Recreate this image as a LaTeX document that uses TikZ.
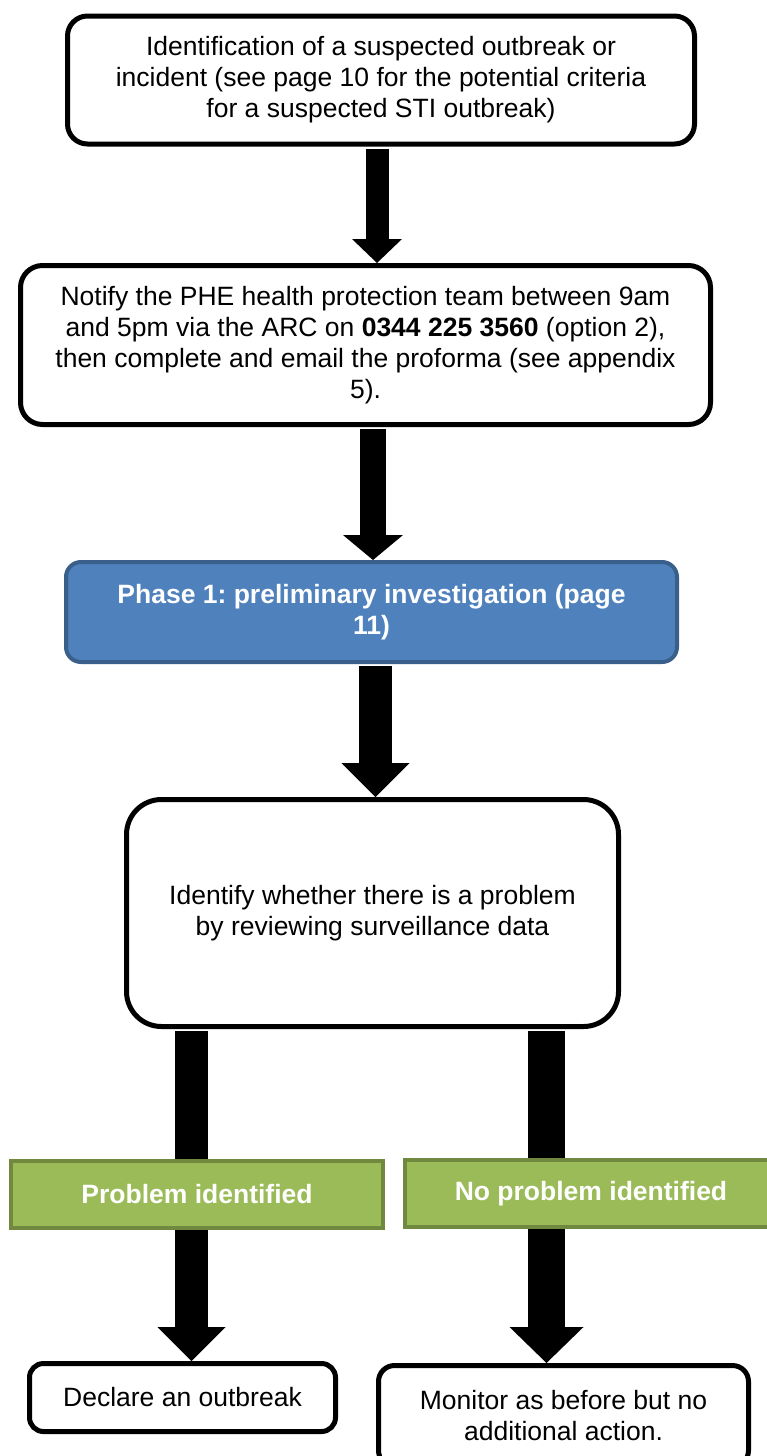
\documentclass[tikz,border=0pt]{standalone}
\usepackage{fontspec}
\setmainfont{Liberation Sans}
\frenchspacing
\usetikzlibrary{arrows.meta}
\definecolor{phaseblue}{HTML}{4F81BD}
\definecolor{phaseedge}{HTML}{3A5F8B}
\definecolor{outcomegreen}{HTML}{9BBB59}
\definecolor{outcomeedge}{HTML}{71893F}
\tikzset{
  bigarrow/.style n args={3}{line width=#1, -{Triangle[width=#2,length=#3,line width=0pt]}},
  shaft/.style={line width=#1}
}

\begin{document}
\begin{tikzpicture}[x=1pt,y=-1pt]
        \tikzstyle{every node}=[font=\fontsize{26.5}{31}\selectfont, align=center, inner sep=0pt]
        \tikzstyle{stepbox}=[draw, line width=5pt, fill=white]
        \tikzstyle{phasebox}=[draw=phaseedge, fill=phaseblue, line width=4pt, rounded corners=15pt, text=white, font=\fontsize{26.5}{31}\selectfont\bfseries]
        \tikzstyle{outcomebox}=[draw=outcomeedge, fill=outcomegreen, line width=4pt, text=white, font=\fontsize{26.5}{31}\selectfont\bfseries, minimum width=372pt, minimum height=67pt]

        \useasboundingbox (0,0) rectangle (767,1456);
        \clip (0,0) rectangle (767,1456);

        % boxes, top to bottom
        \node[stepbox, rounded corners=20pt, minimum width=627pt, minimum height=128pt] (report) at (381,80)
            {Identification of a suspected outbreak or\\incident (see page 10 for the potential criteria\\for a suspected STI outbreak)};
        \node[stepbox, rounded corners=22pt, minimum width=690pt, minimum height=159pt] (notify) at (365.5,345)
            {Notify the PHE health protection team between 9am\\and 5pm via the ARC on \textbf{0344 225 3560} (option 2),\\then complete and email the proforma (see appendix\\5).};
        \node[phasebox, minimum width=611pt, minimum height=100pt] (phase) at (371.5,612)
            {Phase 1: preliminary investigation (page\\11)};
        \node[stepbox, rounded corners=35pt, minimum width=492pt, minimum height=227pt] (review) at (372.5,913)
            {Identify whether there is a problem\\by reviewing surveillance data};
        \node[outcomebox] (found) at (197,1194.5) {Problem identified};
        \node[outcomebox] (none) at (591,1193.5) {No problem identified};
        \node[stepbox, rounded corners=14pt, minimum width=306pt, minimum height=68pt] (declare) at (182.5,1397.5)
            {Declare an outbreak};
        \node[stepbox, rounded corners=16pt, minimum width=370pt, minimum height=101pt] (monitor) at (563.5,1416)
            {Monitor as before but no\\additional action.};

        % lanes for the two branches
        \coordinate (leftlane) at (191.5,0);
        \coordinate (rightlane) at (546.5,0);

        % main arrows
        \draw [bigarrow={23pt}{50pt}{24pt}, shorten <=2pt] ([xshift=-4pt]report.south) -- ([xshift=-4pt]report.south |- notify.north);
        \draw [bigarrow={26pt}{60pt}{25pt}, shorten <=2pt] ([xshift=7.5pt]notify.south) -- ([xshift=7.5pt]notify.south |- phase.north);
        \draw [bigarrow={33pt}{68pt}{34pt}, shorten <=2pt] ([xshift=4pt]phase.south) -- ([xshift=4pt]phase.south |- review.north);

        % branches
        \draw [shaft=33pt, shorten <=2pt] (review.south -| leftlane) -- (found.north -| leftlane);
        \draw [bigarrow={33pt}{68pt}{34pt}] (found.south -| leftlane) -- (declare.north -| leftlane);
        \draw [shaft=37pt, shorten <=2pt] (review.south -| rightlane) -- (none.north -| rightlane);
        \draw [bigarrow={37pt}{74pt}{36pt}] (none.south -| rightlane) -- (monitor.north -| rightlane);
\end{tikzpicture}
\end{document}
